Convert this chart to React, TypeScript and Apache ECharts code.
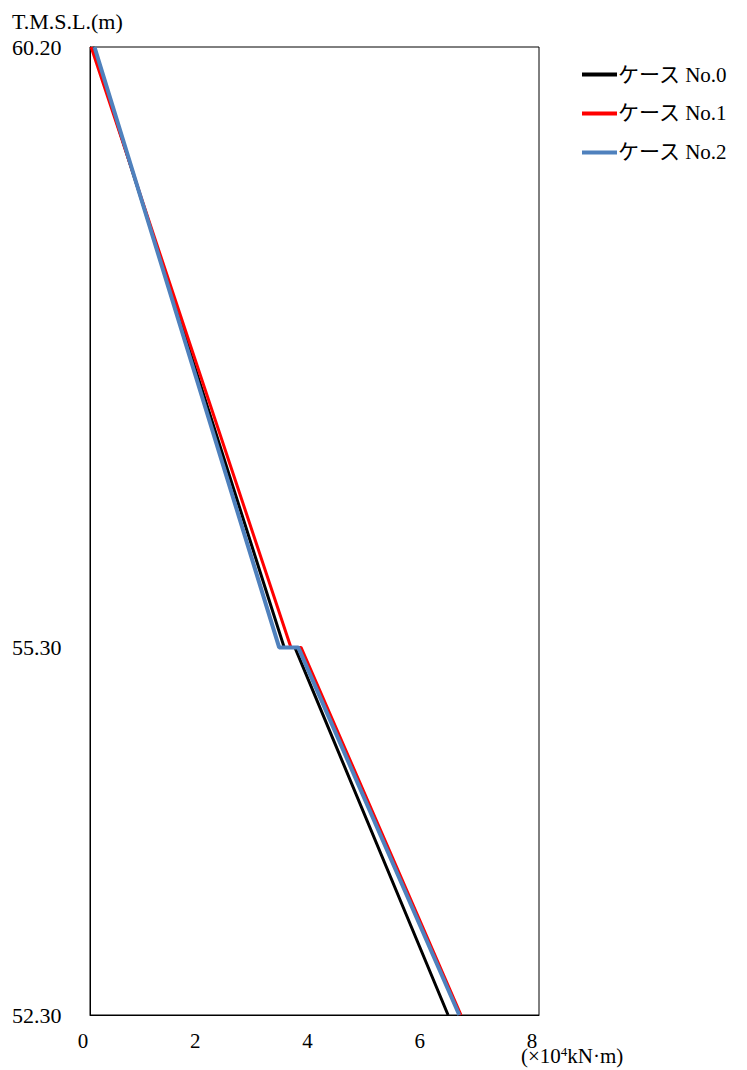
import React, { useEffect, useRef } from "react";
import * as echarts from "echarts";

const elevations = [60.2, 55.3, 55.3, 52.3];
const case0 = [0.05, 3.46, 3.65, 6.38];
const case1 = [0.02, 3.58, 3.76, 6.61];
const case2 = [0.08, 3.37, 3.71, 6.58];
const seriesNames = ["ケース No.0", "ケース No.1", "ケース No.2"];
const seriesColors = ["#000000", "#ff0000", "#4f81bd"];
const yLabelValues = [60.2, 55.3, 52.3];
const xTicks = [0, 2, 4, 6, 8];

const FONT = "'Liberation Serif', 'Noto Sans CJK JP', serif";

export default function App() {
  const ref = useRef<HTMLDivElement>(null);
  useEffect(() => {
    if (!ref.current) return;
    const chart = echarts.init(ref.current, undefined, { renderer: "svg" });
    const all = [case0, case1, case2];
    chart.setOption({
      animation: false,
      backgroundColor: "#ffffff",
      grid: {
        left: 90,
        right: 208,
        top: 47,
        bottom: 55,
        show: true,
        borderColor: "#000",
        borderWidth: 1,
        backgroundColor: "transparent",
      },
      legend: {
        orient: "vertical",
        left: 577,
        top: 59,
        icon: "rect",
        itemWidth: 35,
        itemHeight: 4,
        itemGap: 18,
        data: seriesNames,
        textStyle: { fontFamily: FONT, fontSize: 21, color: "#000", lineHeight: 20, padding: [0, 0, 0, -4] },
      },
      xAxis: {
        type: "value",
        min: 0,
        max: 8,
        interval: 2,
        axisLine: { show: true, lineStyle: { color: "#000", width: 1 } },
        axisTick: { show: false },
        splitLine: { show: false },
        axisLabel: {
          fontFamily: FONT,
          fontSize: 21,
          color: "#000",
          margin: 15,
          padding: [0, 14, 0, 0],
          formatter: (v: number) => (xTicks.includes(v) ? String(v) : ""),
        },
      },
      yAxis: {
        type: "value",
        min: 52.3,
        max: 60.2,
        axisLine: { show: true, lineStyle: { color: "#000", width: 1 } },
        axisTick: { show: false },
        splitLine: { show: false },
        axisLabel: {
          customValues: yLabelValues,
          fontFamily: FONT,
          fontSize: 22,
          color: "#000",
          margin: 78,
          align: "left",
          formatter: (v: number) => v.toFixed(2),
        },
      },
      graphic: [
        {
          type: "text",
          left: 12,
          top: 10,
          style: { text: "T.M.S.L.(m)", font: `22px ${FONT}`, fill: "#000" },
        },
        {
          type: "text",
          left: 521,
          top: 1045,
          style: {
            text: "(×10{sup|4}kN·m)",
            font: `21px ${FONT}`,
            fill: "#000",
            rich: {
              sup: { fontSize: 13, verticalAlign: "top", fontFamily: FONT, padding: [0, 0, 8, 0] },
            },
          },
        },
      ],
      series: all.map((vals, i) => ({
        name: seriesNames[i],
        type: "line",
        data: vals.map((x, j) => [x, elevations[j]]),
        showSymbol: false,
        symbol: "none",
        color: seriesColors[i],
        lineStyle: { color: seriesColors[i], width: i === 2 ? 4 : 3 },
        z: 2 + i,
      })),
    });
    return () => chart.dispose();
  }, []);
  return (
    <div
      ref={ref}
      style={{ position: "fixed", left: 0, top: 0, width: 747, height: 1070 }}
    />
  );
}
